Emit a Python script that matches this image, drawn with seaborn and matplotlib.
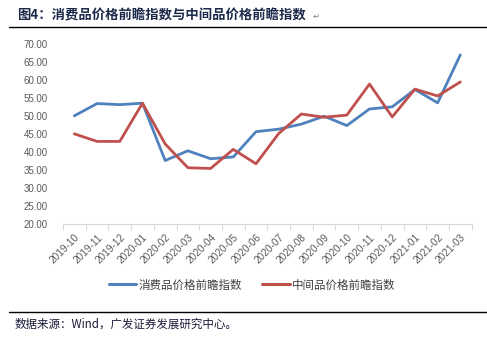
import matplotlib
matplotlib.use("Agg")
import matplotlib.pyplot as plt
import seaborn as sns
import pandas as pd
from matplotlib.lines import Line2D

months = ["2019-10", "2019-11", "2019-12", "2020-01", "2020-02", "2020-03",
          "2020-04", "2020-05", "2020-06", "2020-07", "2020-08", "2020-09",
          "2020-10", "2020-11", "2020-12", "2021-01", "2021-02", "2021-03"]
consumer = [50.0, 53.4, 53.1, 53.5, 37.6, 40.3, 38.1, 38.6, 45.6, 46.3, 47.7,
            49.9, 47.3, 51.9, 52.5, 57.3, 53.6, 66.9]
intermediate = [45.0, 42.9, 42.9, 53.5, 42.2, 35.6, 35.4, 40.7, 36.7, 45.1, 50.5,
                49.6, 50.2, 58.8, 49.7, 57.4, 55.5, 59.4]
series_names = ["消费品价格前瞻指数", "中间品价格前瞻指数"]
colors = ["#4F81BD", "#C0504D"]
yticks = [20, 25, 30, 35, 40, 45, 50, 55, 60, 65, 70]

sns.set_theme(style="white")
plt.rcParams['font.family'] = ['Noto Sans CJK SC', 'DejaVu Sans']

df = pd.DataFrame({
    "x": list(range(len(months))) * 2,
    "value": consumer + intermediate,
    "series": [series_names[0]] * len(months) + [series_names[1]] * len(months),
})

W, H = 487, 337
fig = plt.figure(figsize=(W / 100, H / 100), dpi=100)
ax = fig.add_axes([63 / W, 1 - 224 / H, 408.7 / W, (224 - 43.7) / H])

sns.lineplot(data=df, x="x", y="value", hue="series", palette=colors,
             linewidth=2.0, ax=ax, legend=False, sort=False)

ax.set_xlim(-0.5, len(months) - 0.5)
ax.set_ylim(20, 70)
ax.set_yticks(yticks)
ax.set_yticklabels([f"{v:.2f}" for v in yticks], fontsize=7,
                   family=['Liberation Sans', 'DejaVu Sans'], color="#595959")
ax.set_xticks(range(len(months)))
ax.set_xticklabels(months, rotation=45, ha="right", rotation_mode="anchor",
                   fontsize=7.2, family=['Liberation Sans', 'DejaVu Sans'], color="#595959")
ax.tick_params(axis="y", length=0, pad=11)
ax.tick_params(axis="x", length=0, pad=6)
# category boundary ticks
ax.set_xticks([i - 0.5 for i in range(len(months) + 1)], minor=True)
ax.tick_params(axis="x", which="minor", length=4, color="#D9D9D9", width=0.8, bottom=True)
ax.set_xlabel("")
ax.set_ylabel("")
for s in ["top", "right", "left"]:
    ax.spines[s].set_visible(False)
ax.spines["bottom"].set_color("#D9D9D9")
ax.spines["bottom"].set_linewidth(0.8)
ax.grid(False)

handles = [Line2D([0], [0], color=c, lw=2.2) for c in colors]
fig.legend(handles, series_names, loc="center", bbox_to_anchor=(252 / W, 1 - 285 / H),
           ncol=2, frameon=False, fontsize=8.3, handlelength=2.4, handletextpad=0.15,
           columnspacing=1.8, labelcolor="#404040")

fig.text(17 / W, 1 - 15 / H, "图4：消费品价格前瞻指数与中间品价格前瞻指数", fontsize=9.6,
         fontweight="bold", color="#1B2A4A", va="center", ha="left")
fig.text(313 / W, 1 - 16 / H, "↵", fontsize=6, color="#808080", va="center", ha="left",
         family=['DejaVu Sans'])
fig.add_artist(Line2D([9 / W, 1.0], [1 - 27 / H, 1 - 27 / H], color="black", lw=1.0,
                      transform=fig.transFigure))
fig.add_artist(Line2D([9 / W, 1.0], [1 - 312 / H, 1 - 312 / H], color="black", lw=1.0,
                      transform=fig.transFigure))
fig.text(15 / W, 1 - 324 / H, "数据来源：Wind，广发证券发展研究中心。", fontsize=8.3,
         color="#1A1A3A", va="center", ha="left")

fig.savefig("out.png", dpi=100)
